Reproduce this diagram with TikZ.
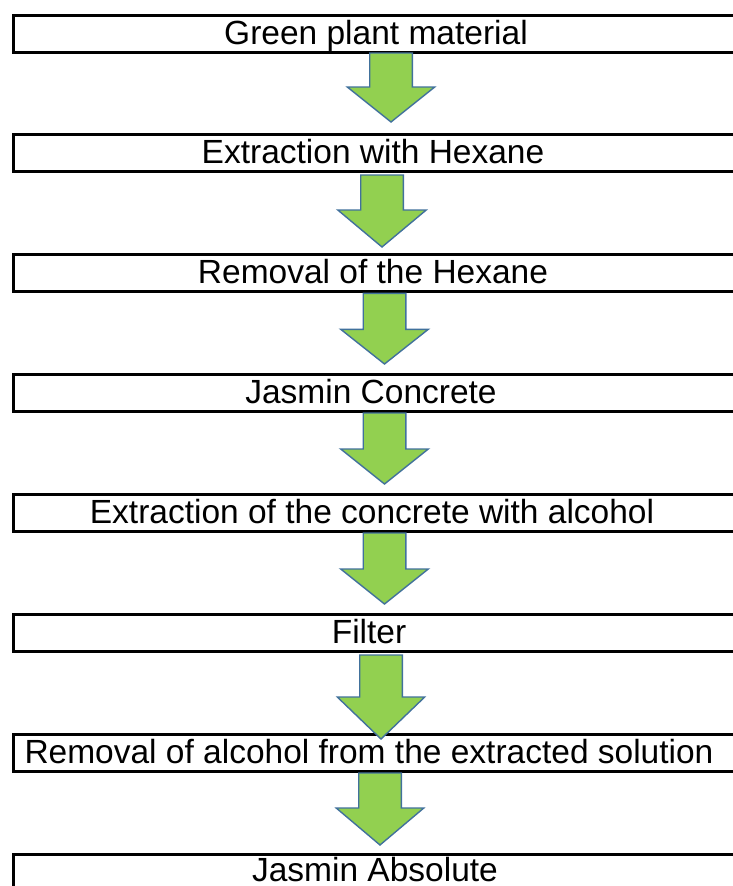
\documentclass[tikz,border=0pt]{standalone}
\usepackage{fontspec}
\setmainfont{Liberation Sans}
\definecolor{arrowgreen}{HTML}{92D050}
\definecolor{arrowblue}{HTML}{41719C}
\newcommand\blockarr[5]{%
  \draw[blockarrow] ({#1-21.3},#2) -- ({#1+21.3},#2) -- ({#1+21.3},#3) -- ({#1+#5},#3)
    -- (#1,#4) -- ({#1-#5},#3) -- ({#1-21.3},#3) -- cycle;}
\begin{document}
\begin{tikzpicture}[x=1pt,y=-1pt]
\tikzset{
  stepbox/.style={draw=black,line width=3pt,rectangle,minimum width=740pt,
    minimum height=37.5pt,inner sep=0pt,anchor=north west},
  steptext/.style={anchor=base,inner sep=0pt,font=\fontsize{33.5}{36}\selectfont},
  blockarrow/.style={fill=arrowgreen,draw=arrowblue,line width=1.4pt,line join=miter}
}
\clip (0,0) rectangle (733,886);
\fill[white] (0,0) rectangle (733,886);
% boxes
\node[stepbox] (b1) at (11.5,13.5) {};
\node[stepbox] (b2) at (11.5,132.5) {};
\node[stepbox] (b3) at (11.5,252.5) {};
\node[stepbox] (b4) at (11.5,372.5) {};
\node[stepbox] (b5) at (11.5,492.5) {};
\node[stepbox] (b6) at (11.5,612.5) {};
\node[stepbox] (b7) at (11.5,732.5) {};
\node[stepbox] (b8) at (11.5,852.5) {};
% texts
\node[steptext] (t1) at (376,44) {Green plant material};
\node[steptext] (t2) at (373,163) {Extraction with Hexane};
\node[steptext] (t3) at (373,283) {Removal of the Hexane};
\node[steptext] (t4) at (371,403) {Jasmin Concrete};
\node[steptext] (t5) at (372,523) {Extraction of the concrete with alcohol};
\node[steptext] (t6) at (369,643) {Filter};
\node[steptext] (t7) at (369,763) {Removal of alcohol from the extracted solution};
\node[steptext] (t8) at (375,881) {Jasmin Absolute};
% arrows
\blockarr{391}{53}{87}{122}{43.7}
\blockarr{382}{175}{210}{247}{44.2}
\blockarr{384.5}{293.3}{329.3}{364}{43.8}
\blockarr{384.5}{413}{449}{484}{43.8}
\blockarr{384.5}{533}{569}{604}{43.8}
\blockarr{381}{655}{697}{739}{43.7}
\blockarr{380}{773}{808}{845}{43.8}
\end{tikzpicture}
\end{document}
